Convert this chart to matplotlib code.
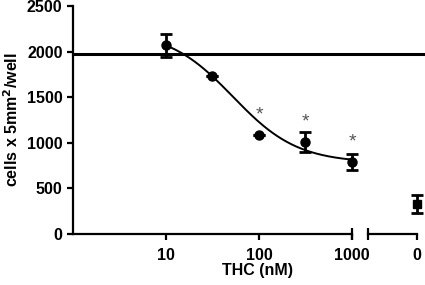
import numpy as np
import matplotlib
matplotlib.use('Agg')
from matplotlib import pyplot as plt

plt.rcParams['font.family'] = ['Liberation Sans', 'DejaVu Sans']
plt.rcParams['font.weight'] = 'bold'

# THC concentrations (nM) and cell counts
thc = [10, 31.6, 100, 316, 1000]
cells = [2070, 1730, 1090, 1010, 790]
cells_err = [125, 0, 0, 110, 88]
signif = [False, False, True, True, True]

# vehicle (0 nM)
ctrl_label = ['0']
ctrl_cells = [330]
ctrl_err = [95]

baseline = 1975

# fitted sigmoid parameters
top, bottom, log_ec50, hill = 2230, 780, 1.72, 1.25

fig = plt.figure(figsize=(4.25, 2.85), dpi=100)
ax1 = fig.add_axes([73/425, 51/285, 279/425, 228/285])
ax2 = fig.add_axes([368/425, 51/285, 49/425, 228/285], sharey=ax1)

for ax in (ax1, ax2):
    ax.patch.set_alpha(0)
    ax.spines['top'].set_visible(False)
    ax.spines['right'].set_visible(False)
    ax.spines['bottom'].set_linewidth(1.6)
    ax.spines['left'].set_linewidth(1.6)
    ax.tick_params(direction='out', length=4, width=1.6, labelsize=11.5)
    ax.tick_params(axis='x', pad=6)

# curve
xs = np.logspace(1, 3, 200)
ys = bottom + (top - bottom) / (1 + 10 ** ((np.log10(xs) - log_ec50) * hill))
ax1.plot(xs, ys, color='black', lw=1.4)

ax1.errorbar(thc, cells, yerr=cells_err, fmt='o', color='black', ms=6.5,
             capsize=4, capthick=2, elinewidth=2, clip_on=False, zorder=3)
for x, y, e, s in zip(thc, cells, cells_err, signif):
    if s:
        ax1.text(x, y + max(e, 130) + 90, '*', ha='center', va='center',
                 color='#555555', fontsize=14, fontweight='normal')

ax1.axhline(baseline, xmin=0, xmax=(425 - 73) / 279, color='black', lw=2.2,
            clip_on=False, zorder=2)

ax1.set_xscale('log')
ax1.set_xlim(1, 1000)
ax1.set_ylim(0, 2500)
ax1.set_xticks([10, 100, 1000])
ax1.set_xticklabels(['10', '100', '1000'])
ax1.minorticks_off()
ax1.set_yticks([0, 500, 1000, 1500, 2000, 2500])
ax1.set_ylabel('cells x 5mm$^2$/well', fontsize=11.5, fontweight='bold')
ax1.set_xlabel('THC (nM)', fontsize=11.5, fontweight='bold')
ax1.xaxis.set_label_coords((258 - 73) / 279, -0.125)

ax2.errorbar([1], ctrl_cells, yerr=ctrl_err, fmt='s', color='black', ms=6,
             capsize=4, capthick=2, elinewidth=2, clip_on=False, zorder=3)
ax2.set_xlim(0, 1)
ax2.set_xticks([1])
ax2.set_xticklabels(ctrl_label)
ax2.spines['left'].set_visible(False)
ax2.tick_params(axis='y', left=False, labelleft=False)

# break marks
ax1.plot([1], [0], transform=ax1.transAxes, marker='|', ms=9, mew=1.6,
         color='black', clip_on=False)
ax2.plot([0], [0], transform=ax2.transAxes, marker='|', ms=9, mew=1.6,
         color='black', clip_on=False)

fig.savefig('out.png', dpi=100)
